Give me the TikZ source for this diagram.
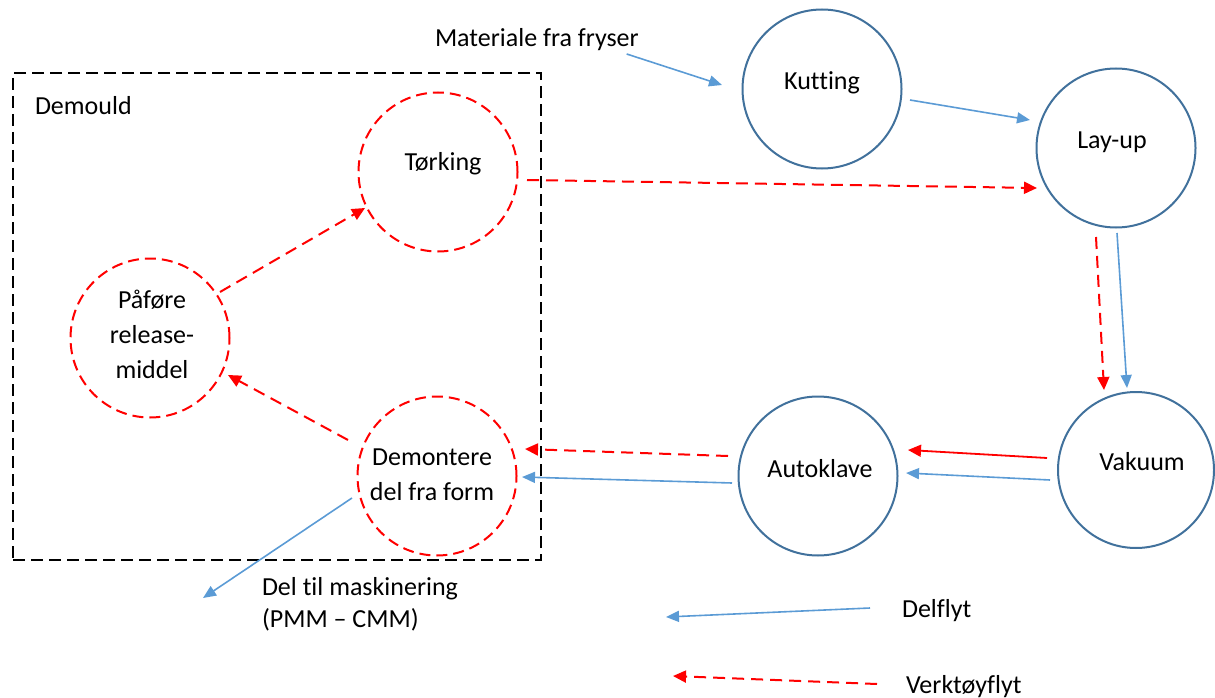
\documentclass[tikz,border=0pt]{standalone}
\usepackage{fontspec}
\setmainfont{Carlito}[Ligatures=NoCommon]
\usetikzlibrary{arrows.meta,calc}
\definecolor{ring}{HTML}{41719C}
\definecolor{flow}{HTML}{5B9BD5}
\definecolor{tool}{HTML}{FF0000}

\begin{document}
\begin{tikzpicture}[x=1pt,y=-1pt,
  every node/.style={font=\fontsize{26}{35}\selectfont, inner sep=0pt, outer sep=0pt},
  station/.style={circle, draw=ring, line width=2pt, minimum size=159pt},
  toolstation/.style={circle, draw=tool, line width=2pt, dash pattern=on 11pt off 6pt, minimum size=159pt},
  partflow/.style={draw=flow, line width=1.6pt, -{Triangle[length=13pt,width=11pt]}},
  toolflow/.style={draw=tool, line width=2pt, dash pattern=on 12pt off 7pt, -{Triangle[length=13pt,width=12pt]}},
  toolsolid/.style={draw=tool, line width=1.8pt, -{Triangle[length=13pt,width=12pt]}},
  frame/.style={draw=black, line width=1.8pt, dash pattern=on 12pt off 6pt}
]
\useasboundingbox (0,0) rectangle (1215,698);

% Demould area
\node[frame, minimum width=528pt, minimum height=487pt] (box) at (277,316.5) {};
\node[anchor=base west] (demould) at ($(box.north west)+(22,42)$) {Demould};

% process stations
\node[station] (kut) at (822,89) {};
\node[station] (lay) at (1116,148) {};
\node[station, minimum size=156pt] (vak) at (1136,470) {};
\node[station] (aut) at (818,476) {};
\node[toolstation] (tor) at (438,172) {};
\node[toolstation] (paf) at (150,338) {};
\node[toolstation] (dem) at (437,476) {};

% station labels
\node[anchor=base] (kutT) at ($(kut.center)+(0,1)$) {Kutting};
\node[anchor=base] (layT) at ($(lay.center)+(-4,0)$) {Lay-up};
\node[anchor=base] (vakT) at ($(vak.center)+(6,0)$) {Vakuum};
\node[anchor=base] (autT) at ($(aut.center)+(2,1)$) {Autoklave};
\node[anchor=base] (torT) at ($(tor.center)+(5,-2)$) {Tørking};
\node[align=center] (pafT) at ($(paf.center)+(2,-4)$) {Påføre\\release-\\middel};
\node[align=center] (demT) at ($(dem.center)+(-5,-1)$) {Demontere\\del fra form};

% free texts
\node[anchor=base west] (mat) at (435,47) {Materiale fra fryser};
\node[anchor=north west, align=left, font=\fontsize{26}{32}\selectfont] (del) at (262,577) {Del til maskinering\\(PMM – CMM)};
\node[anchor=base west] (delflyt) at (902,617) {Delflyt};
\node[anchor=base west] (verk) at (906,693) {Verktøyflyt};

% part flow
\draw[partflow] ($(mat.base east)+(-12,7)$) -- ($(kut.center)+(-100,-4)$);
\draw[partflow] ($(kut.center)+(88,11)$) -- ($(lay.center)+(-86,-28)$);
\draw[partflow] ($(lay.center)+(1,85)$) -- ($(vak.center)+(-9,-82)$);
\draw[partflow] ($(vak.center)+(-86,10)$) -- ($(aut.center)+(88,-3)$);
\draw[partflow] ($(aut.center)+(-86,7)$) -- ($(dem.center)+(85,1)$);
\coordinate (out) at ($(del.north west)+(-59,21)$);
\draw[partflow] ($(dem.center)+(-85,22)$) -- (out);

% tool flow
\draw[toolflow] ($(tor.center)+(89,8)$) -- ($(lay.center)+(-79,40)$);
\draw[toolflow] ($(lay.center)+(-20,89)$) -- ($(vak.center)+(-32,-80)$);
\draw[toolsolid] ($(vak.center)+(-89,-12)$) -- ($(aut.center)+(90,-26)$);
\draw[toolflow] ($(aut.center)+(-90,-20)$) -- ($(dem.center)+(88,-27)$);
\draw[toolflow] ($(dem.center)+(-89,-36)$) -- ($(paf.center)+(78,37)$);
\draw[toolflow] ($(paf.center)+(70,-46)$) -- ($(tor.center)+(-73,36)$);

% legend
\draw[partflow] ($(delflyt.base west)+(-32,-9)$) -- ($(delflyt.base west)+(-236,0)$);
\draw[toolflow] ($(verk.base west)+(-29,-9)$) -- ($(verk.base west)+(-233,-17)$);
\end{tikzpicture}
\end{document}
